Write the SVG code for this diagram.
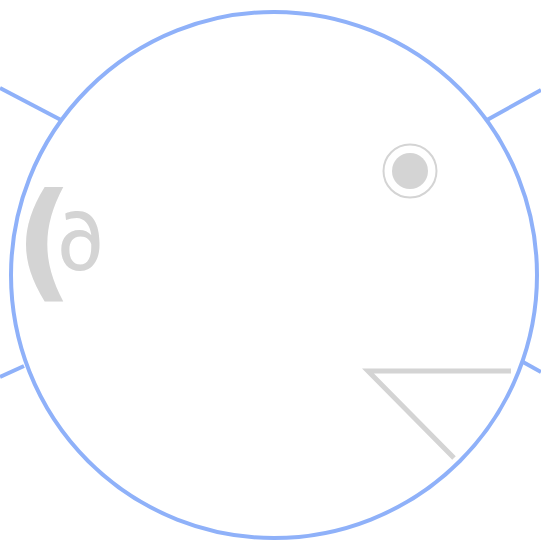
<svg xmlns="http://www.w3.org/2000/svg" width="541" height="540" viewBox="0 0 541 540">
<style>
.conn{stroke:#8fb1f9;stroke-width:4;fill:none}
.g{fill:#d4d4d4}
.gl{stroke:#d4d4d4;stroke-width:5;fill:none}
</style>
<rect width="541" height="540" fill="#fff"/>
<g id="connectors">
<line class="conn" x1="0" y1="88" x2="61" y2="120"/>
<line class="conn" x1="541" y1="90" x2="487" y2="120"/>
<line class="conn" x1="0" y1="377" x2="24" y2="366"/>
<line class="conn" x1="523" y1="362" x2="541" y2="372"/>
</g>
<g id="body">
<circle class="conn" cx="274" cy="275" r="263"/>
</g>
<g id="eye">
<circle cx="410" cy="171" r="26.5" fill="none" stroke="#d4d4d4" stroke-width="2"/>
<circle cx="410" cy="171" r="18" fill="#d4d4d4"/>
</g>
<g id="ear">
<text class="g"><tspan x="15" y="285" font-size="128" font-weight="bold" font-family="'DejaVu Sans',sans-serif">(</tspan><tspan x="55" y="270" font-size="80" font-family="Inter,sans-serif">∂</tspan></text>
</g>
<g id="mouth">
<polyline class="gl" points="511,371 368,371 454,458"/>
</g>
</svg>
